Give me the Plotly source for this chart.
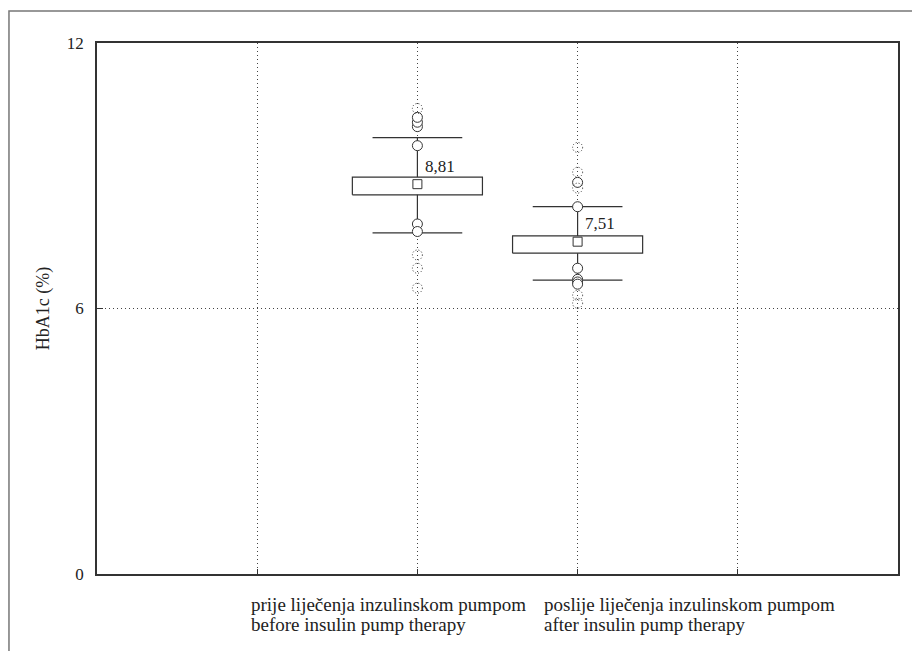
import plotly.graph_objects as go

# ---- data ----
x_pos = [2, 3]
cat_line1 = ["prije liječenja inzulinskom pumpom", "poslije liječenja inzulinskom pumpom"]
cat_line2 = ["before insulin pump therapy", "after insulin pump therapy"]
means = [8.81, 7.51]
mean_text = ["8,81", "7,51"]
box_low = [8.57, 7.25]
box_high = [8.97, 7.64]
whisk_low = [7.71, 6.64]
whisk_high = [9.86, 8.30]
outliers = [[9.68, 10.11, 10.21, 10.32, 7.91, 7.74],
            [8.30, 8.85, 6.91, 6.66, 6.60, 6.55]]
extremes = [[10.52, 7.21, 6.91, 6.46],
            [9.64, 9.08, 8.72, 6.30, 6.12]]
y_ticks = [0, 6, 12]
x_grid = [1, 2, 3, 4]

# ---- styles ----
FONT = "Liberation Serif, DejaVu Serif, Times New Roman, serif"
BOX_HW = 0.406
CAP_HW = 0.28
LINE_C = "#333333"
GRID_DASH = "1px,3px"

fig = go.Figure()

for i, x in enumerate(x_pos):
    # box (mean +/- spread)
    fig.add_trace(go.Scatter(
        x=[x - BOX_HW, x + BOX_HW, x + BOX_HW, x - BOX_HW, x - BOX_HW],
        y=[box_low[i], box_low[i], box_high[i], box_high[i], box_low[i]],
        mode="lines", fill="toself", fillcolor="white",
        line=dict(color=LINE_C, width=1.2), hoverinfo="skip", showlegend=False))
    # stems and caps
    fig.add_trace(go.Scatter(
        x=[x, x, None, x, x, None,
           x - CAP_HW, x + CAP_HW, None, x - CAP_HW, x + CAP_HW],
        y=[whisk_low[i], box_low[i], None, box_high[i], whisk_high[i], None,
           whisk_low[i], whisk_low[i], None, whisk_high[i], whisk_high[i]],
        mode="lines", line=dict(color=LINE_C, width=1.2),
        hoverinfo="skip", showlegend=False))
    # outliers
    fig.add_trace(go.Scatter(
        x=[x] * len(outliers[i]), y=outliers[i], mode="markers",
        marker=dict(symbol="circle", size=10, color="white",
                    line=dict(color=LINE_C, width=1)),
        hoverinfo="skip", showlegend=False))
    # mean marker
    fig.add_trace(go.Scatter(
        x=[x], y=[means[i]], mode="markers",
        marker=dict(symbol="square", size=9, color="white",
                    line=dict(color=LINE_C, width=1)),
        hoverinfo="skip", showlegend=False))
    # extreme values (dotted circles)
    for v in extremes[i]:
        fig.add_shape(type="circle", xref="x", yref="y",
                      xsizemode="pixel", ysizemode="pixel",
                      xanchor=x, yanchor=v, x0=-5, x1=5, y0=-5, y1=5,
                      line=dict(color="#333333", width=1, dash="1px,2px"))
    # mean value label
    fig.add_annotation(x=x + 0.035, y=means[i] + 0.40, xref="x", yref="y",
                       text=mean_text[i], showarrow=False, xanchor="left",
                       yanchor="middle", font=dict(family=FONT, size=17, color="#222"))

# category labels (two lines each)
label_x = [0.95, 2.775]
for lx, t1, t2 in zip(label_x, cat_line1, cat_line2):
    fig.add_annotation(x=lx, y=-0.0565, xref="x", yref="paper", text=t1,
                       showarrow=False, xanchor="left", yanchor="middle",
                       font=dict(family=FONT, size=19, color="#222"))
    fig.add_annotation(x=lx, y=-0.0942, xref="x", yref="paper", text=t2,
                       showarrow=False, xanchor="left", yanchor="middle",
                       font=dict(family=FONT, size=19, color="#222"))

# outer frame
fig.add_shape(type="rect", xref="paper", yref="paper",
              x0=-0.1099, x1=1.06, y0=-0.2, y1=1.0603,
              line=dict(color="#777777", width=1.5), layer="below")

fig.update_layout(
    width=920, height=651,
    margin=dict(l=89, r=30, t=35, b=85),
    paper_bgcolor="white", plot_bgcolor="white",
    font=dict(family=FONT, size=16, color="#222"),
    xaxis=dict(range=[0, 5], tickvals=x_grid, showticklabels=False,
               ticks="inside", ticklen=5, tickcolor=LINE_C,
               showgrid=True, gridcolor="#444444", griddash=GRID_DASH, gridwidth=1,
               showline=True, mirror=True, linecolor="#333333", linewidth=1.5,
               zeroline=False, fixedrange=True),
    yaxis=dict(range=[0, 12], tickvals=y_ticks, ticktext=[str(v) for v in y_ticks],
               ticks="inside", ticklen=6, tickcolor=LINE_C,
               showgrid=True, gridcolor="#444444", griddash=GRID_DASH, gridwidth=1,
               showline=True, mirror=True, linecolor="#333333", linewidth=1.5,
               zeroline=False, ticklabelstandoff=8,
               title=dict(text="HbA1c (%)", standoff=13,
                          font=dict(family=FONT, size=18, color="#222")),
               tickfont=dict(family=FONT, size=17, color="#222"), fixedrange=True),
)

fig.write_html("out.html")
